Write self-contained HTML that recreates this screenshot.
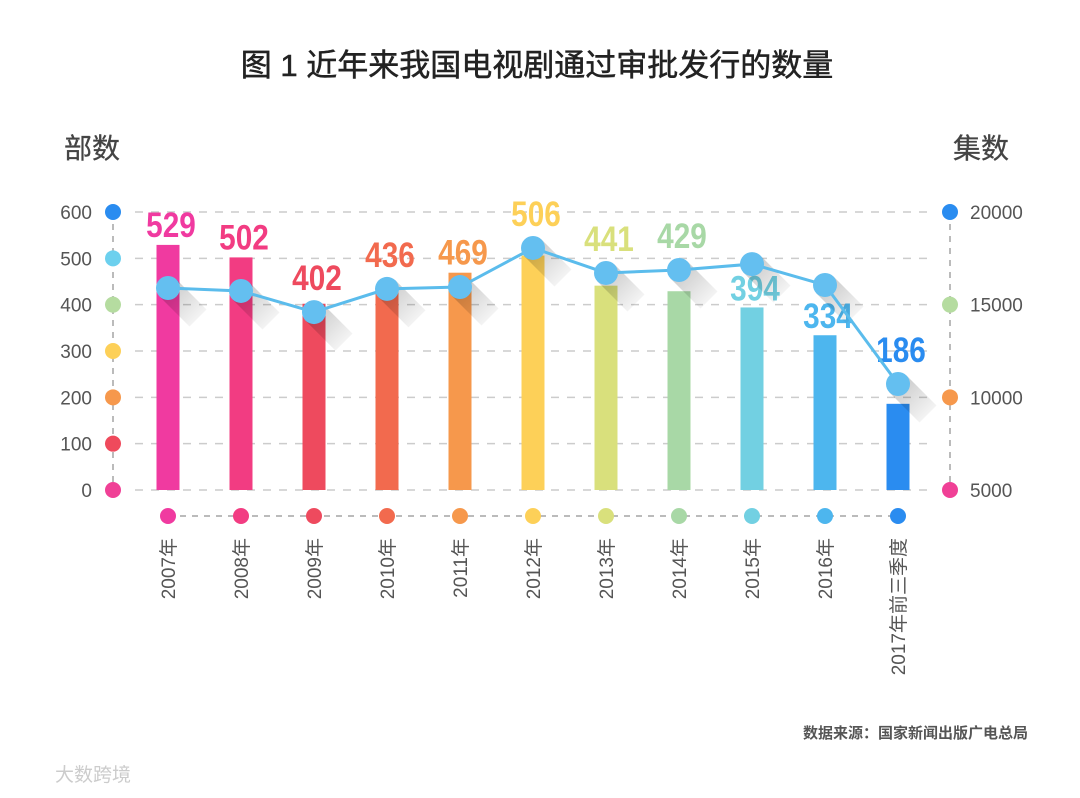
<!DOCTYPE html>
<html><head><meta charset="utf-8"><style>
body{margin:0;background:#fff;}
svg text{font-family:"Liberation Sans","Noto Sans CJK SC",sans-serif;}
</style></head><body>
<svg id="chart" width="1080" height="793" viewBox="0 0 1080 793" xmlns="http://www.w3.org/2000/svg">
<defs><linearGradient id="shg" x1="0" y1="0" x2="1" y2="1"><stop offset="0" stop-color="#000" stop-opacity="0.25"/><stop offset="1" stop-color="#000" stop-opacity="0"/></linearGradient></defs>
<text x="537" y="76" text-anchor="middle" font-size="31" fill="#222" stroke="#222" stroke-width="0.5">图 1 近年来我国电视剧通过审批发行的数量</text>
<text x="92" y="158" text-anchor="middle" font-size="28" fill="#444" stroke="#444" stroke-width="0.3">部数</text>
<text x="981" y="158" text-anchor="middle" font-size="28" fill="#444" stroke="#444" stroke-width="0.3">集数</text>
<text x="1028" y="738" text-anchor="end" font-size="15" font-weight="bold" fill="#555">数据来源：国家新闻出版广电总局</text>
<text x="55" y="781" font-size="19" fill="#ccc">大数跨境</text>
<g id="grid"></g><g id="bars"></g><g id="line"></g><g id="axes"></g>
</svg>
<script>
const categories=["2007年","2008年","2009年","2010年","2011年","2012年","2013年","2014年","2015年","2016年","2017年前三季度"];
const dramaCounts=[529,502,402,436,469,506,441,429,394,334,186];
const episodeCounts=[15900,15740,14600,15850,15950,18060,16710,16870,17190,16060,10720];
const leftTicks=[0,100,200,300,400,500,600];
const rightTicks=[5000,10000,15000,20000];
const barColors=["#f03aa0","#f23c82","#ee4a5e","#f26a4e","#f6984c","#fdd058","#d9e07c","#a8d8a6","#72d0e2","#4db6ee","#2a8cf0"];
const leftDotColors=["#f04096","#ef4a5c","#f6984c","#fdd058","#b5dca0","#6cd0ee","#2a8cf0"];
const rightDotColors=["#f04096","#f6984c","#b5dca0","#2a8cf0"];
const NS="http://www.w3.org/2000/svg";
const X0=168,DX=73;
const xPos=i=>X0+i*DX;
const yL=v=>490-v*278/600;
const yR=v=>490-(v-5000)*278/15000;
function mk(t,a,p){const e=document.createElementNS(NS,t);for(const k in a)e.setAttribute(k,a[k]);p.appendChild(e);return e;}
const grid=document.getElementById('grid'),bars=document.getElementById('bars'),line=document.getElementById('line'),axes=document.getElementById('axes');
leftTicks.forEach((t,i)=>{const y=yL(t);
 const g=mk('line',{x1:135,x2:930,y1:y,y2:y,stroke:"#ccc","stroke-dasharray":"8 8","stroke-width":1.5},grid);
 
 
 const tx=mk('text',{x:92,y:y+7,"text-anchor":"end","font-size":19,fill:"#555"},axes);tx.textContent=t;
 
 
 const d=mk('circle',{cx:113,cy:y,r:8,fill:leftDotColors[i]},axes);
 
 
});
mk('line',{x1:113,x2:113,y1:212,y2:490,stroke:"#bbb","stroke-dasharray":"6 6","stroke-width":2},grid);
mk('line',{x1:950,x2:950,y1:212,y2:490,stroke:"#bbb","stroke-dasharray":"6 6","stroke-width":2},grid);
mk('line',{x1:168,x2:900,y1:516,y2:516,stroke:"#bbb","stroke-dasharray":"6 6","stroke-width":2},grid);
rightTicks.forEach((t,i)=>{const y=yR(t);
 const d=mk('circle',{cx:950,cy:y,r:8,fill:rightDotColors[i]},axes);
 
 
 const tx=mk('text',{x:970,y:y+7,"font-size":19,fill:"#555"},axes);tx.textContent=t;
 
 
});
categories.forEach((c,i)=>{const x=xPos(i),v=dramaCounts[i],col=barColors[i];
 const b=mk('rect',{x:x-11.5,y:yL(v),width:23,height:490-yL(v),fill:col},bars);
 
 
 const py=yR(episodeCounts[i]);
 const sh=mk('polygon',{points:`${x+8.5},${py-8.5} ${x+8.5+30},${py-8.5+30} ${x-8.5+30},${py+8.5+30} ${x-8.5},${py+8.5}`,fill:"url(#shg)"},line);
 
 
 const bt=yL(v);
 const ly=(bt-py>30)?bt-7:Math.min(bt,py-14)-8;
 const vl=mk('text',{x:0,y:0,"text-anchor":"middle","font-size":35,"font-weight":"bold",fill:col,transform:`translate(${x+3},${ly}) scale(0.85,1)`},bars);vl.textContent=v;
 
 
 const d=mk('circle',{cx:x,cy:516,r:8,fill:col},axes);
 
 
 const tl=mk('text',{x:0,y:0,"text-anchor":"end","font-size":19,fill:"#555",transform:`translate(${x+7},538) rotate(-90)`},axes);tl.textContent=c;
 
 
});
const pts=episodeCounts.map((v,i)=>xPos(i)+','+yR(v)).join(' ');
const pl=mk('polyline',{points:pts,fill:"none",stroke:"#5bbcec","stroke-width":3},line);


episodeCounts.forEach((v,i)=>{
 const p=mk('circle',{cx:xPos(i),cy:yR(v),r:12,fill:"#64bff0"},line);
 
 
});
</script>
</body></html>
